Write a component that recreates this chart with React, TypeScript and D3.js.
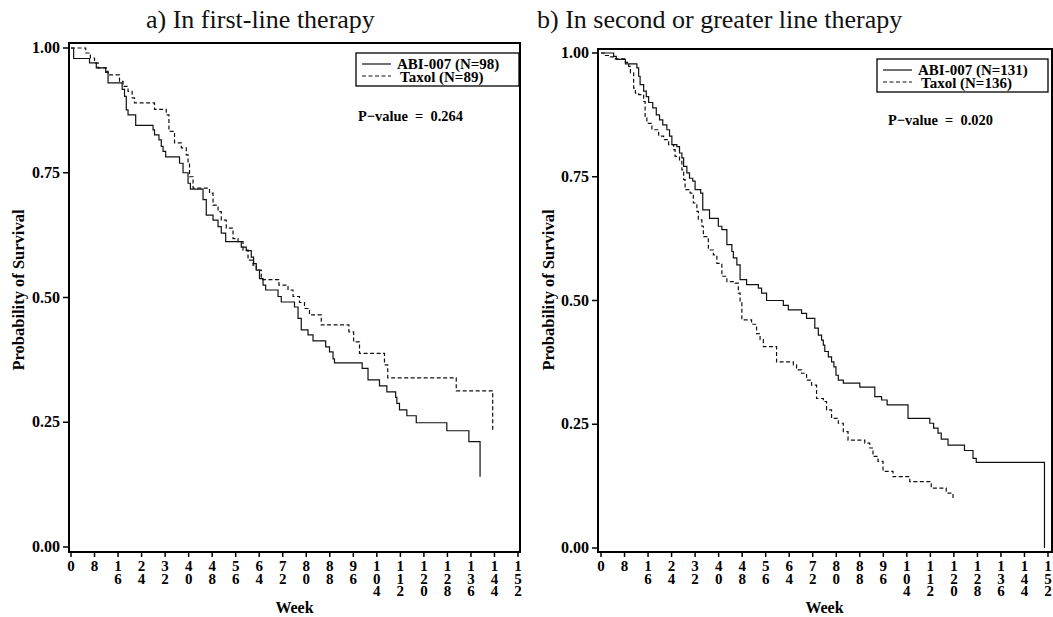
import React from "react";
import * as d3 from "d3";

// tick labels
const weekTicks = [0, 8, 16, 24, 32, 40, 48, 56, 64, 72, 80, 88, 96, 104, 112, 120, 128, 136, 144, 152];
const survTicks = [0, 0.25, 0.5, 0.75, 1];

// a) first-line therapy, [week, survival]
const firstAbi = [
  [0, 1], [0.9, 0.979], [6.3, 0.97], [8.6, 0.96], [11.8, 0.951], [12.6, 0.93], [17.4, 0.917],
  [18.2, 0.903], [18.8, 0.876], [19.4, 0.866], [22, 0.845], [27.9, 0.836], [28.4, 0.826],
  [29.9, 0.816], [30.7, 0.803], [31.3, 0.793], [32.2, 0.782], [36.9, 0.769], [38.1, 0.75],
  [39.8, 0.729], [40.6, 0.717], [44.9, 0.696], [46, 0.665], [48.3, 0.655], [50, 0.642],
  [51.1, 0.629], [52.6, 0.612], [57.9, 0.601], [59.6, 0.594], [61.3, 0.581], [62.1, 0.568],
  [63, 0.555], [64.1, 0.538], [65.3, 0.525], [66.2, 0.515], [70.4, 0.502], [71.5, 0.491],
  [76, 0.481], [77.2, 0.458], [78.3, 0.435], [80.6, 0.425], [82.3, 0.413], [86.6, 0.401],
  [87.9, 0.391], [89.1, 0.377], [89.6, 0.369], [99, 0.358], [101, 0.335], [104.9, 0.323],
  [107.4, 0.311], [110.4, 0.3], [110.8, 0.288], [111.7, 0.275], [114.2, 0.263], [117.4, 0.249],
  [127.8, 0.233], [135.3, 0.211], [139.1, 0.141],
];
const firstTaxol = [
  [0, 1], [5, 0.99], [6.6, 0.98], [8, 0.97], [9.2, 0.96], [12, 0.953], [12.6, 0.946],
  [16.5, 0.933], [17.7, 0.923], [19.4, 0.913], [20.8, 0.9], [21.6, 0.89], [28.4, 0.877],
  [32.4, 0.866], [33.3, 0.833], [35.2, 0.81], [37.5, 0.8], [39.2, 0.786], [39.8, 0.77],
  [40.3, 0.742], [41.5, 0.719], [47.1, 0.709], [48.3, 0.685], [50, 0.672], [51.1, 0.655],
  [52.8, 0.639], [55.1, 0.618], [56.8, 0.612], [58.5, 0.595], [60.2, 0.575], [61.9, 0.565],
  [63, 0.555], [64.7, 0.536], [70.7, 0.525], [73.8, 0.515], [75.5, 0.502], [77.7, 0.49],
  [79.4, 0.478], [81.1, 0.465], [85.1, 0.445], [94.5, 0.431], [96.1, 0.411], [98.1, 0.388],
  [106.6, 0.365], [107.7, 0.339], [131, 0.313], [143.4, 0.233],
];

// b) second or greater line therapy
const secondAbi = [
  [0, 1], [4.3, 0.993], [5.2, 0.987], [8.3, 0.978], [12.2, 0.97], [12.8, 0.953], [13.3, 0.936],
  [14.5, 0.923], [15.4, 0.912], [16.2, 0.9], [17.6, 0.889], [18.8, 0.875], [19.9, 0.865],
  [21, 0.855], [22.4, 0.845], [23.3, 0.832], [24.1, 0.815], [25.8, 0.811], [26.7, 0.798],
  [27.5, 0.788], [28.1, 0.771], [29.2, 0.758], [30.1, 0.747], [31.2, 0.741], [32, 0.724],
  [33.9, 0.717], [34.6, 0.683], [36.9, 0.666], [39.9, 0.65], [41.1, 0.643], [42.8, 0.613],
  [44.5, 0.599], [45, 0.586], [46.2, 0.572], [47.3, 0.542], [49.5, 0.532], [53.5, 0.525],
  [54.6, 0.515], [56.3, 0.5], [62, 0.49], [63.7, 0.481], [68.2, 0.474], [69.9, 0.464],
  [72.7, 0.444], [73.9, 0.43], [75, 0.42], [75.6, 0.41], [76.1, 0.397], [77.3, 0.386],
  [78.4, 0.376], [79.2, 0.366], [79.9, 0.349], [80.7, 0.339], [82.4, 0.333], [88, 0.325],
  [93.1, 0.306], [95.4, 0.299], [97.3, 0.289], [104.4, 0.262], [111.8, 0.252], [113.1, 0.242],
  [114.6, 0.232], [115.7, 0.22], [118, 0.208], [123.6, 0.197], [126.5, 0.181], [127.6, 0.173],
  [150.8, 0],
];
const secondTaxol = [
  [0, 1], [1.5, 0.995], [3.2, 0.992], [4.9, 0.988], [8.3, 0.981], [9.4, 0.973], [10, 0.96],
  [11.1, 0.929], [11.7, 0.919], [12.8, 0.916], [14.5, 0.902], [15, 0.872], [15.6, 0.858],
  [17.3, 0.845], [19.6, 0.832], [21.3, 0.825], [23, 0.815], [24.7, 0.805], [25.2, 0.791],
  [26.7, 0.781], [27.5, 0.764], [28.1, 0.744], [28.6, 0.724], [30.3, 0.717], [31.4, 0.697],
  [32.6, 0.68], [33.1, 0.663], [34.3, 0.65], [34.8, 0.629], [36.5, 0.602], [38.2, 0.592],
  [39.4, 0.575], [41.1, 0.549], [42.8, 0.538], [45.6, 0.535], [46.7, 0.515], [47.3, 0.498],
  [47.9, 0.461], [51.2, 0.452], [52.9, 0.433], [54.1, 0.421], [55.2, 0.407], [59.7, 0.376],
  [65.4, 0.37], [66.5, 0.36], [68.2, 0.353], [69.9, 0.339], [71.6, 0.329], [73.3, 0.302],
  [75.6, 0.296], [76.7, 0.279], [78.4, 0.262], [80.7, 0.252], [82.4, 0.235], [84, 0.218],
  [89.7, 0.212], [91.4, 0.202], [92.5, 0.185], [94.2, 0.175], [95.9, 0.155], [99.3, 0.144],
  [105, 0.134], [112.3, 0.121], [117.4, 0.111], [119.7, 0.097],
];

const panels = [
  {
    title: "a) In first-line therapy", titleX: 146,
    frame: { x0: 69, x1: 520, y0: 43, y1: 552 },
    xRange: [71, 518], yRange: [547, 48],
    abi: firstAbi, taxol: firstTaxol,
    abiLabel: "ABI-007 (N=98)", taxolLabel: "Taxol (N=89)",
    legend: { x: 356, y: 53, w: 163, h: 33 },
    pvalue: "P\u2212value  =  0.264", pX: 358, pY: 121,
    yLabelX: 24,
  },
  {
    title: "b) In second or greater line therapy", titleX: 537,
    frame: { x0: 598, x1: 1052, y0: 49, y1: 552 },
    xRange: [601, 1048], yRange: [548, 53],
    abi: secondAbi, taxol: secondTaxol,
    abiLabel: "ABI-007 (N=131)", taxolLabel: "Taxol (N=136)",
    legend: { x: 877, y: 59, w: 171, h: 33 },
    pvalue: "P\u2212value  =  0.020", pX: 888, pY: 125,
    yLabelX: 554,
  },
];

const serif = "'Liberation Serif', 'Times New Roman', serif";

function Panel({ p }) {
  const x = d3.scaleLinear().domain([0, 152]).range(p.xRange);
  const y = d3.scaleLinear().domain([0, 1]).range(p.yRange);
  const line = d3.line().x((d) => x(d[0])).y((d) => y(d[1])).curve(d3.curveStepAfter);
  const f = p.frame;
  const lg = p.legend;

  return (
    <g>
      <text x={p.titleX} y={28} fontFamily={serif} fontSize={26} fill="#111">{p.title}</text>

      <path d={line(p.abi)} fill="none" stroke="#111" strokeWidth={1.2} />
      <path d={line(p.taxol)} fill="none" stroke="#111" strokeWidth={1.2} strokeDasharray="4,2.5" />

      <rect x={f.x0} y={f.y0} width={f.x1 - f.x0} height={f.y1 - f.y0} fill="none" stroke="#000" strokeWidth={2} />

      {survTicks.map((t) => (
        <g key={t}>
          <line x1={f.x0 - 6} x2={f.x0} y1={y(t)} y2={y(t)} stroke="#000" strokeWidth={1.5} />
          <text x={f.x0 - 9} y={y(t) + 5} textAnchor="end" fontFamily={serif} fontWeight="bold" fontSize={16}>
            {t.toFixed(2)}
          </text>
        </g>
      ))}

      {weekTicks.map((t) => (
        <g key={t}>
          <line x1={x(t)} x2={x(t)} y1={f.y1} y2={f.y1 + 5} stroke="#000" strokeWidth={1.5} />
          <text textAnchor="middle" fontFamily={serif} fontWeight="bold" fontSize={15}>
            {String(t).split("").map((c, i) => (
              <tspan key={i} x={x(t)} y={571 + i * 12.5}>{c}</tspan>
            ))}
          </text>
        </g>
      ))}

      <text x={(p.xRange[0] + p.xRange[1]) / 2} y={613} textAnchor="middle" fontFamily={serif} fontWeight="bold" fontSize={16}>
        Week
      </text>
      <text
        transform={`translate(${p.yLabelX},290) rotate(-90)`}
        textAnchor="middle" fontFamily={serif} fontWeight="bold" fontSize={16.5}
      >
        Probability of Survival
      </text>

      <rect x={lg.x} y={lg.y} width={lg.w} height={lg.h} fill="#fff" stroke="#000" strokeWidth={1.3} />
      <line x1={lg.x + 6} x2={lg.x + 35} y1={lg.y + 11} y2={lg.y + 11} stroke="#111" strokeWidth={1.2} />
      <line x1={lg.x + 6} x2={lg.x + 35} y1={lg.y + 23} y2={lg.y + 23} stroke="#111" strokeWidth={1.2} strokeDasharray="4,2.5" />
      <text x={lg.x + 41} y={lg.y + 16} fontFamily={serif} fontWeight="bold" fontSize={15}>{p.abiLabel}</text>
      <text x={lg.x + 44} y={lg.y + 28.5} fontFamily={serif} fontWeight="bold" fontSize={15}>{p.taxolLabel}</text>

      <text
        x={p.pX} y={p.pY} fontFamily={serif} fontWeight="bold" fontSize={15}
        textLength={105} lengthAdjust="spacingAndGlyphs" style={{ whiteSpace: "pre" }}
      >
        {p.pvalue}
      </text>
    </g>
  );
}

export default function App() {
  return (
    <svg width={1053} height={617} style={{ position: "absolute", left: 0, top: 0, background: "#fff" }}>
      {panels.map((p, i) => (
        <Panel key={i} p={p} />
      ))}
    </svg>
  );
}
